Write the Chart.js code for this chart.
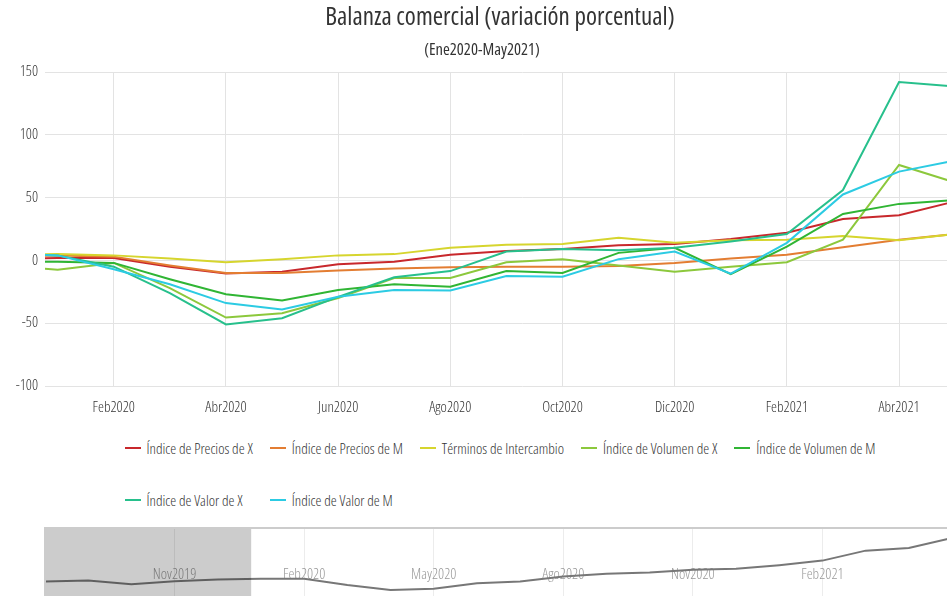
<!DOCTYPE html>
<html lang="es">
<head>
<meta charset="utf-8">
<title>Balanza comercial</title>
<script src="https://cdn.jsdelivr.net/npm/chart.js@4.4.1/dist/chart.umd.min.js"></script>
<style>
    html, body { margin: 0; padding: 0; background: #fff; overflow: hidden; }
    body { width: 947px; height: 596px; position: relative; }
    #contenedor { position: absolute; left: 0; top: 0; width: 1000px; height: 620px; }
    #graficoPrincipal { position: absolute; left: 0; top: 0; }
    #navegador { position: absolute; left: 0; top: 527px; }
    #subtitulo {
        position: absolute; left: 0; top: 39px; width: 964px; line-height: 20px;
        text-align: center; color: #333;
        font-family: "Open Sans", sans-serif; font-stretch: condensed;
        font-weight: 400; font-size: 16.5px;
    }
    #leyenda {
        position: absolute; left: 0; top: 436px; width: 1000px;
        display: grid; grid-template-columns: repeat(5, auto);
        justify-content: center; column-gap: 17px; row-gap: 28px;
        font-family: "Open Sans", sans-serif; font-stretch: condensed;
        font-weight: 300; font-size: 15px; color: #333;
    }
    #leyenda .item { display: flex; align-items: center; height: 24px; white-space: nowrap; }
    #leyenda .item i { display: inline-block; width: 16px; height: 2px; margin-right: 6px; }
</style>
</head>
<body>
<div id="contenedor">
    <canvas id="graficoPrincipal" width="1000" height="430"></canvas>
    <div id="subtitulo">(Ene2020-May2021)</div>
    <div id="leyenda"></div>
    <canvas id="navegador" width="1000" height="80"></canvas>
</div>
<script>
// Meses de la serie (Dic2019 queda fuera del rango visible, a la izquierda)
const meses = ['Dic2019', 'Ene2020', 'Feb2020', 'Mar2020', 'Abr2020', 'May2020', 'Jun2020', 'Jul2020',
    'Ago2020', 'Sep2020', 'Oct2020', 'Nov2020', 'Dic2020', 'Ene2021', 'Feb2021', 'Mar2021', 'Abr2021', 'May2021'];

// Variación porcentual por índice
const preciosX   = [1, 2, 2, -5, -10.5, -9, -3, -1, 4.5, 7.5, 9, 12, 13, 17, 22, 33, 36, 47];
const preciosM   = [3, 4, 3, -4, -10, -10, -8, -6.5, -5.5, -5, -5, -4.5, -2, 1.5, 4.5, 10.5, 16.5, 21];
const terminos   = [4.5, 5, 4, 1.5, -1.5, 1, 4, 5, 10, 12.5, 13, 18, 14, 16, 16.5, 19.5, 16, 21];
const volumenX   = [-4, -7.5, -2, -22, -45.5, -42, -30, -14, -14, -1.5, 1, -4, -9, -5, -1.5, 16.5, 76, 62];
const volumenM   = [-1, -1, -2, -15, -27, -32, -23.5, -19, -21, -8.5, -10, 6, 10, -11, 11, 37, 45, 48];
const valorX     = [5, 4, -5, -26, -51, -46, -29, -13.5, -8.5, 7, 9, 8, 10, 15, 21, 56, 142, 138.5];
const valorM     = [5, 4, -7, -19, -34, -39, -29, -23.5, -24, -12.5, -13, 1, 7, -10.5, 14, 52.5, 70.7, 79.5];

// Meses previos que solo aparecen en el navegador (Índice de Precios de X)
const mesesPrevios = ['Ago2019', 'Sep2019', 'Oct2019', 'Nov2019'];
const preciosXPrevios = [-1.2, -0.1, -4, -0.7];

// Etiquetas de los ejes
const etiquetasX = ['Feb2020', 'Abr2020', 'Jun2020', 'Ago2020', 'Oct2020', 'Dic2020', 'Feb2021', 'Abr2021'];
const etiquetasY = [-100, -50, 0, 50, 100, 150];
const etiquetasNav = ['Nov2019', 'Feb2020', 'May2020', 'Ago2020', 'Nov2020', 'Feb2021'];

const series = [
    { nombre: 'Índice de Precios de X', datos: preciosX, color: '#c8282c' },
    { nombre: 'Índice de Precios de M', datos: preciosM, color: '#e37d32' },
    { nombre: 'Términos de Intercambio', datos: terminos, color: '#d6d52e' },
    { nombre: 'Índice de Volumen de X', datos: volumenX, color: '#8cc83c' },
    { nombre: 'Índice de Volumen de M', datos: volumenM, color: '#30b534' },
    { nombre: 'Índice de Valor de X', datos: valorX, color: '#27c08c' },
    { nombre: 'Índice de Valor de M', datos: valorM, color: '#2ccbe3' }
];

// Open Sans en su ancho condensado (el peso lleva también el font-stretch)
const FUENTE = '"Open Sans", sans-serif';
const PESO_FINO = '300 condensed';
const PESO_TITULO = '400 condensed';
const GRILLA = '#e3e3e3';

// Posición en el eje: Ene2020 = 0
const posMes = nombre => meses.indexOf(nombre) - 1;
const mesesNav = mesesPrevios.concat(meses);
const posNav = nombre => mesesNav.indexOf(nombre) - mesesPrevios.length - 1;

// Rango visible: desde fines de Dic2019; el área llega hasta el borde del lienzo
const RANGO_MIN = -0.226;
const RANGO_MAX = 16.8;
const NAV_MIN = -5;
const NAV_MAX = 16;

Chart.defaults.font.family = FUENTE;
Chart.defaults.font.weight = PESO_FINO;
Chart.defaults.color = '#333';

const principal = new Chart(document.getElementById('graficoPrincipal'), {
    type: 'line',
    data: {
        datasets: series.map((s, i) => ({
            label: s.nombre,
            data: s.datos.map((v, j) => ({ x: j - 1, y: v })),
            borderColor: s.color,
            backgroundColor: s.color,
            borderWidth: 2,
            pointRadius: 0,
            tension: 0,
            order: -i
        }))
    },
    options: {
        responsive: false,
        animation: false,
        layout: { padding: 0 },
        plugins: {
            legend: { display: false },
            tooltip: { enabled: false },
            // el subtítulo va aparte (#subtitulo), algo corrido a la izquierda
            title: {
                display: true,
                text: 'Balanza comercial (variación porcentual)',
                color: '#333',
                font: { size: 25, weight: PESO_TITULO },
                padding: { top: 3, bottom: 39 }
            }
        },
        scales: {
            x: {
                type: 'linear',
                min: RANGO_MIN,
                max: RANGO_MAX,
                afterBuildTicks: axis => {
                    axis.ticks = etiquetasX.map(e => ({ value: posMes(e) }));
                },
                ticks: {
                    color: '#333',
                    font: { size: 15 },
                    padding: 13,
                    maxRotation: 0,
                    autoSkip: false,
                    callback: value => meses[value + 1]
                },
                grid: { color: GRILLA, drawTicks: false },
                border: { display: false }
            },
            y: {
                min: etiquetasY[0],
                max: etiquetasY[etiquetasY.length - 1],
                afterBuildTicks: axis => {
                    axis.ticks = etiquetasY.map(v => ({ value: v }));
                },
                afterFit: axis => { axis.width = 45; },
                ticks: { color: '#333', font: { size: 15 }, padding: 7 },
                grid: { color: GRILLA, drawTicks: false },
                border: { display: false }
            }
        }
    }
});

// Leyenda en dos filas, columnas alineadas
const leyenda = document.getElementById('leyenda');
principal.data.datasets.forEach(ds => {
    const item = document.createElement('div');
    item.className = 'item';
    const linea = document.createElement('i');
    linea.style.background = ds.borderColor;
    item.appendChild(linea);
    item.appendChild(document.createTextNode(ds.label));
    leyenda.appendChild(item);
});

// Navegador: etiquetas internas, máscara del tramo no seleccionado y contorno
const navegadorPlugin = {
    id: 'navegador',
    beforeDatasetsDraw(chart) {
        const { ctx, chartArea, scales: { x } } = chart;
        ctx.save();
        ctx.font = PESO_FINO + ' 15px ' + FUENTE;
        ctx.fillStyle = '#999';
        ctx.textAlign = 'center';
        ctx.textBaseline = 'middle';
        etiquetasNav.forEach(e => {
            ctx.fillText(e, x.getPixelForValue(posNav(e)), chartArea.top + 47);
        });
        ctx.restore();
    },
    afterDatasetsDraw(chart) {
        const { ctx, chartArea, scales: { x } } = chart;
        const fin = x.getPixelForValue(RANGO_MIN);
        ctx.save();
        ctx.fillStyle = 'rgba(0, 0, 0, 0.2)';
        ctx.fillRect(chartArea.left, chartArea.top, fin - chartArea.left, chartArea.bottom - chartArea.top);
        ctx.strokeStyle = '#cccccc';
        ctx.lineWidth = 2;
        ctx.beginPath();
        ctx.moveTo(chartArea.left, chartArea.bottom);
        ctx.lineTo(chartArea.left, chartArea.top);
        ctx.lineTo(chartArea.right, chartArea.top);
        ctx.stroke();
        ctx.restore();
    }
};

new Chart(document.getElementById('navegador'), {
    type: 'line',
    data: {
        datasets: [{
            data: preciosXPrevios.concat(preciosX).map((v, j) => ({ x: j - mesesPrevios.length - 1, y: v })),
            borderColor: '#777',
            borderWidth: 2,
            pointRadius: 0,
            tension: 0
        }]
    },
    options: {
        responsive: false,
        animation: false,
        layout: { padding: { left: 45, right: 48, top: 1, bottom: 7 } },
        plugins: { legend: { display: false }, tooltip: { enabled: false } },
        scales: {
            x: {
                type: 'linear',
                min: NAV_MIN,
                max: NAV_MAX,
                afterBuildTicks: axis => {
                    axis.ticks = etiquetasNav.map(e => ({ value: posNav(e) }));
                },
                ticks: { display: false },
                grid: { color: '#ececec', drawTicks: false },
                border: { display: false }
            },
            y: {
                display: false,
                min: -21.5,
                max: 58
            }
        }
    },
    plugins: [navegadorPlugin]
});
</script>
</body>
</html>
